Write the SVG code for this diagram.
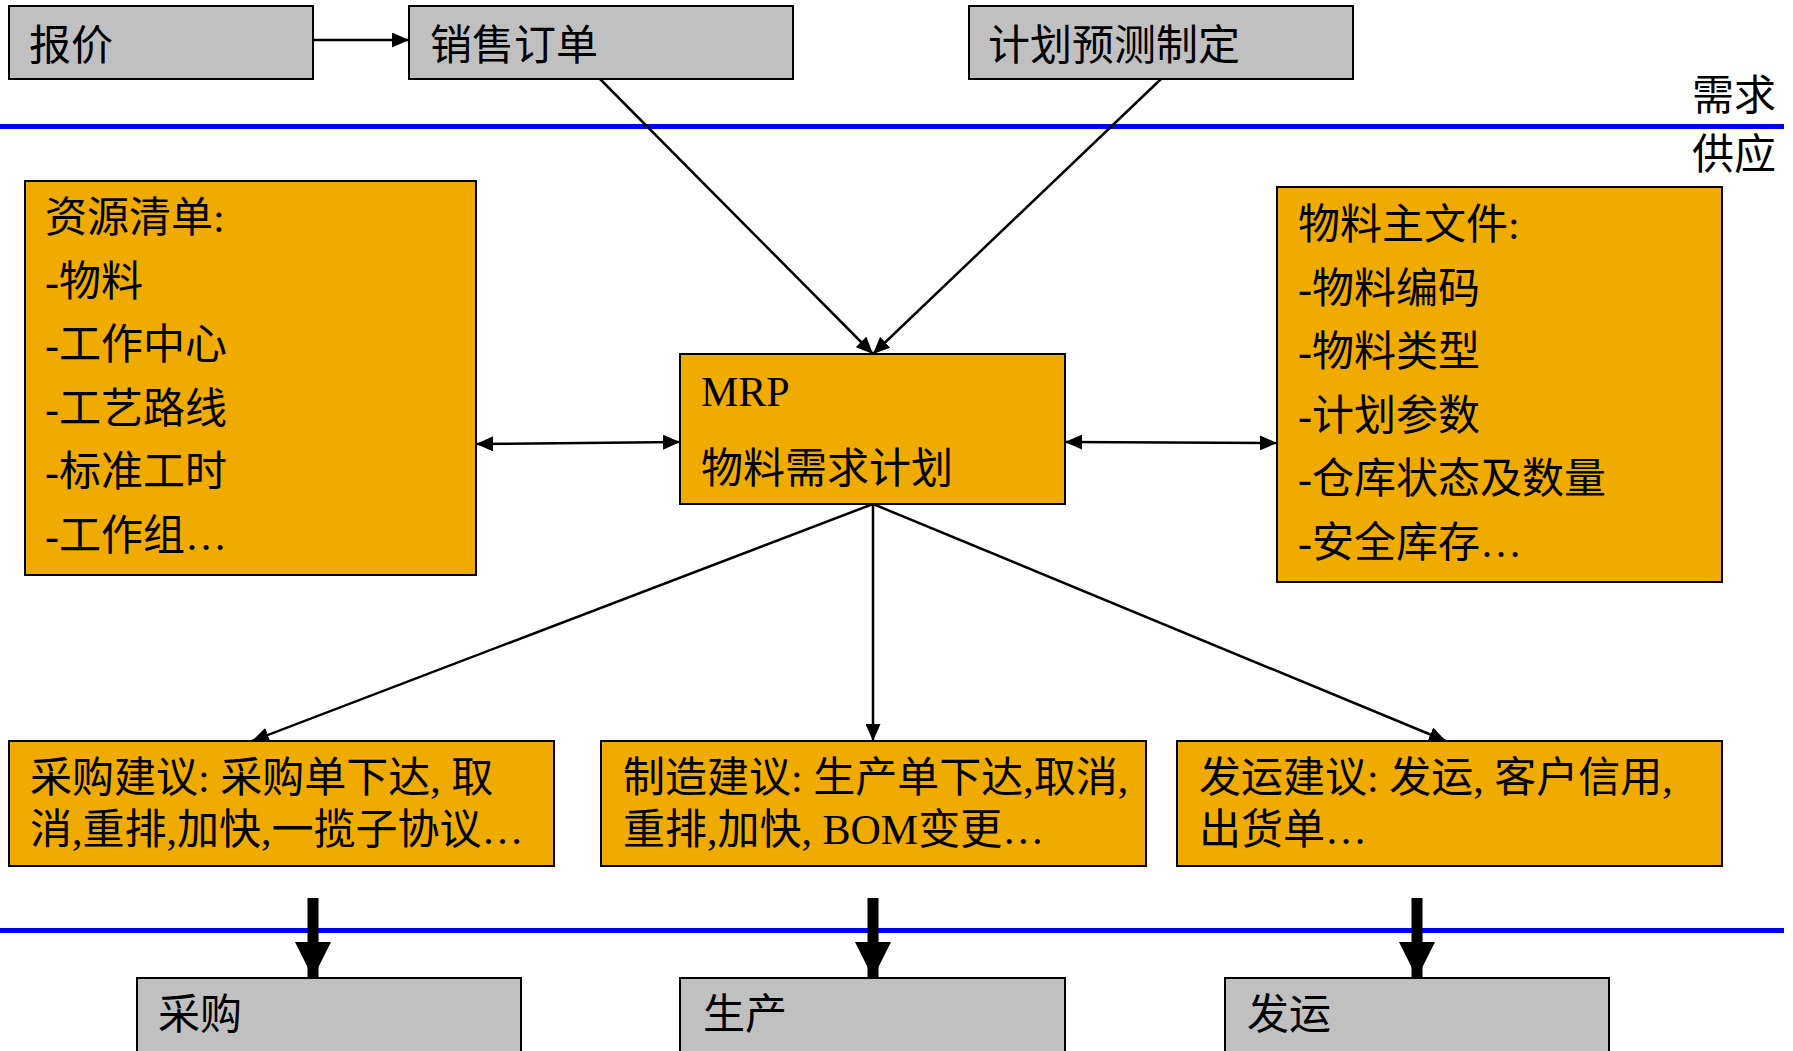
<svg xmlns="http://www.w3.org/2000/svg" width="1793" height="1051" viewBox="0 0 1793 1051">
<defs>
<style>
text{font-family:"Liberation Serif","Noto Sans CJK SC",serif;font-size:42px;fill:#000}
.gray{fill:#C0C0C0;stroke:#000;stroke-width:2}
.org{fill:#F0AB00;stroke:#000;stroke-width:2}
.con{stroke:#000;stroke-width:2.5;fill:none}
.blue{stroke:#0000FF;stroke-width:5}
</style>
<marker id="ah" markerUnits="userSpaceOnUse" markerWidth="17" markerHeight="15" refX="17" refY="7.5" orient="auto-start-reverse">
<path d="M0,0 L17,7.5 L0,15 z" fill="#000"/>
</marker>
<marker id="big" markerUnits="userSpaceOnUse" markerWidth="36" markerHeight="36" refX="36" refY="18" orient="auto">
<path d="M0,0 L36,18 L0,36 z" fill="#000"/>
</marker>
</defs>
<rect width="1793" height="1051" fill="#fff"/>
<g id="dividers">
<line class="blue" x1="0" y1="126.5" x2="1784" y2="126.5"/>
<line class="blue" x1="0" y1="930.5" x2="1784" y2="930.5"/>
<text x="1692" y="110">需求</text>
<text x="1692" y="169">供应</text>
</g>
<g id="connectors">
<line class="con" x1="313" y1="40" x2="409" y2="40" marker-end="url(#ah)"/>
<line class="con" x1="600" y1="79" x2="873" y2="354" marker-end="url(#ah)"/>
<line class="con" x1="1161" y1="79" x2="873" y2="354" marker-end="url(#ah)"/>
<line class="con" x1="476" y1="444" x2="680" y2="442" marker-start="url(#ah)" marker-end="url(#ah)"/>
<line class="con" x1="1065" y1="442" x2="1277" y2="443" marker-start="url(#ah)" marker-end="url(#ah)"/>
<line class="con" x1="873" y1="504" x2="252" y2="741" marker-end="url(#ah)"/>
<line class="con" x1="873" y1="504" x2="873" y2="741" marker-end="url(#ah)"/>
<line class="con" x1="873" y1="504" x2="1446" y2="741" marker-end="url(#ah)"/>
<line stroke="#000" stroke-width="11" x1="313" y1="898" x2="313" y2="978" marker-end="url(#big)"/>
<line stroke="#000" stroke-width="11" x1="873" y1="898" x2="873" y2="978" marker-end="url(#big)"/>
<line stroke="#000" stroke-width="11" x1="1417" y1="898" x2="1417" y2="978" marker-end="url(#big)"/>
</g>
<g id="quote"><rect class="gray" x="9" y="6" width="304" height="73"/><text x="29" y="60">报价</text></g>
<g id="salesorder"><rect class="gray" x="409" y="6" width="384" height="73"/><text x="430" y="60">销售订单</text></g>
<g id="forecast"><rect class="gray" x="969" y="6" width="384" height="73"/><text x="988" y="60">计划预测制定</text></g>
<g id="resources"><rect class="org" x="25" y="181" width="451" height="394"/>
<text x="45" y="232">资源清单:</text>
<text x="45" y="295.5">-物料</text>
<text x="45" y="359">-工作中心</text>
<text x="45" y="422.5">-工艺路线</text>
<text x="45" y="486">-标准工时</text>
<text x="45" y="549.5">-工作组…</text>
</g>
<g id="mrp"><rect class="org" x="680" y="354" width="385" height="150"/>
<text x="701" y="406">MRP</text>
<text x="701" y="483">物料需求计划</text>
</g>
<g id="itemmaster"><rect class="org" x="1277" y="187" width="445" height="395"/>
<text x="1298" y="239">物料主文件:</text>
<text x="1298" y="302.5">-物料编码</text>
<text x="1298" y="366">-物料类型</text>
<text x="1298" y="429.5">-计划参数</text>
<text x="1298" y="493">-仓库状态及数量</text>
<text x="1298" y="556.5">-安全库存…</text>
</g>
<g id="purchase-sugg"><rect class="org" x="9" y="741" width="545" height="125"/>
<text x="30" y="792">采购建议: 采购单下达, 取</text>
<text x="30" y="844">消,重排,加快,一揽子协议…</text>
</g>
<g id="mfg-sugg"><rect class="org" x="601" y="741" width="545" height="125"/>
<text x="623" y="792">制造建议: 生产单下达,取消,</text>
<text x="623" y="844">重排,加快, BOM变更…</text>
</g>
<g id="ship-sugg"><rect class="org" x="1177" y="741" width="545" height="125"/>
<text x="1199" y="792">发运建议: 发运, 客户信用,</text>
<text x="1199" y="844">出货单…</text>
</g>
<g id="purchase"><rect class="gray" x="137" y="978" width="384" height="80"/><text x="158" y="1029">采购</text></g>
<g id="production"><rect class="gray" x="680" y="978" width="385" height="80"/><text x="703" y="1029">生产</text></g>
<g id="shipping"><rect class="gray" x="1225" y="978" width="384" height="80"/><text x="1247" y="1029">发运</text></g>
</svg>
